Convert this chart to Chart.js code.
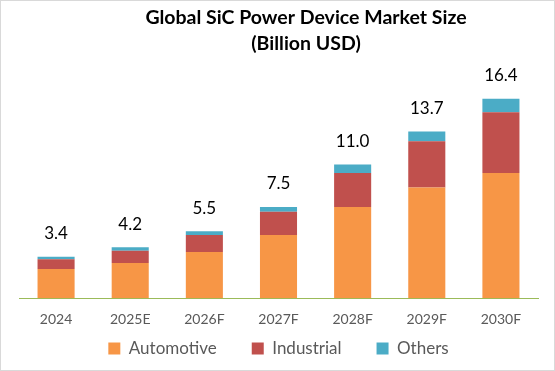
<!DOCTYPE html>
<html>
<head>
<meta charset="utf-8">
<script src="https://cdn.jsdelivr.net/npm/chart.js@4/dist/chart.umd.min.js"></script>
<style>
  html, body { margin: 0; padding: 0; background: #fff; }
  #wrap { width: 555px; height: 371px; position: relative; }
</style>
</head>
<body>
<div id="wrap"><canvas id="marketChart" width="555" height="371"></canvas></div>
<script>
var years = ['2024', '2025E', '2026F', '2027F', '2028F', '2029F', '2030F'];
var automotive = [2.4, 2.9, 3.8, 5.2, 7.5, 9.1, 10.3];
var industrial = [0.8, 1.0, 1.4, 1.9, 2.8, 3.8, 5.0];
var others = [0.2, 0.3, 0.3, 0.4, 0.7, 0.8, 1.1];
var totals = ['3.4', '4.2', '5.5', '7.5', '11.0', '13.7', '16.4'];
var titleLines = ['Global SiC Power Device Market Size', '(Billion USD)'];

var ctx = document.getElementById('marketChart').getContext('2d');

// title is drawn by hand, it sits a bit right of center in the original
var titlePlugin = {
  id: 'titleText',
  afterDraw: function (chart) {
    var c = chart.ctx;
    c.save();
    c.strokeStyle = '#D9D9D9';
    c.lineWidth = 1;
    c.strokeRect(0.5, 0.5, chart.width - 1, chart.height - 1);
    c.fillStyle = '#000';
    c.font = 'bold 19.5px Lato';
    c.textAlign = 'center';
    c.textBaseline = 'middle';
    c.fillText(titleLines[0], 306, 18);
    c.fillText(titleLines[1], 306, 44);
    c.restore();
  }
};

// totals above each stack
var totalsPlugin = {
  id: 'totals',
  afterDatasetsDraw: function (chart) {
    var c = chart.ctx;
    var meta = chart.getDatasetMeta(2);
    c.save();
    c.fillStyle = '#000';
    c.font = '17px Lato';
    c.textAlign = 'center';
    c.textBaseline = 'middle';
    meta.data.forEach(function (bar, i) {
      c.fillText(totals[i], bar.x, bar.y - 23);
    });
    c.restore();
  }
};

// legend keeps wide gaps between items, but its top padding would push
// the axis up, so reserve less room and move it after layout
var legendShift = {
  id: 'legendShift',
  beforeLayout: function (chart) {
    var lg = chart.legend;
    if (!lg || lg._short) return;
    var fit = lg.fit;
    lg.fit = function () {
      fit.call(this);
      this.height = 38;
    };
    lg._short = true;
  },
  afterLayout: function (chart) {
    var lg = chart.legend;
    if (!lg) return;
    lg.top = 305;
    lg.bottom = chart.height;
  }
};

new Chart(ctx, {
  type: 'bar',
  data: {
    labels: years,
    datasets: [
      { label: 'Automotive', data: automotive, backgroundColor: '#F79646' },
      { label: 'Industrial', data: industrial, backgroundColor: '#C0504D' },
      { label: 'Others', data: others, backgroundColor: '#4BACC6' }
    ]
  },
  options: {
    responsive: false,
    animation: false,
    layout: { padding: { top: 55, left: 19, right: 17, bottom: 0 } },
    datasets: { bar: { categoryPercentage: 1, barPercentage: 0.5 } },
    plugins: {
      title: { display: false },
      tooltip: { enabled: false },
      legend: {
        position: 'bottom',
        labels: {
          color: '#595959',
          font: { family: 'Lato', size: 17 },
          boxWidth: 12,
          boxHeight: 12,
          padding: 35
        }
      }
    },
    scales: {
      x: {
        stacked: true,
        grid: { display: false },
        border: { display: true, color: '#9BBB59', width: 1 },
        ticks: { color: '#595959', font: { family: 'Lato', size: 14 }, padding: 5 }
      },
      y: {
        stacked: true,
        display: false,
        min: 0,
        max: 20
      }
    }
  },
  plugins: [titlePlugin, totalsPlugin, legendShift]
});
</script>
</body>
</html>
